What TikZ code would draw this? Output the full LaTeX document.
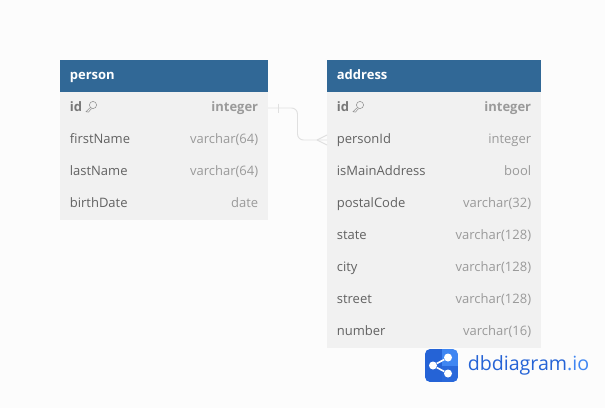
\documentclass[tikz,border=0pt]{standalone}
\usepackage{fontspec}
\setmainfont{Open Sans}
\usetikzlibrary{positioning}
\definecolor{headblue}{HTML}{316896}
\definecolor{rowgrey}{HTML}{F1F1F1}
\definecolor{pagegrey}{HTML}{FCFCFC}
\definecolor{namegrey}{HTML}{626262}
\definecolor{idgrey}{HTML}{777777}
\definecolor{typegrey}{HTML}{9A9A9A}
\definecolor{linkgrey}{HTML}{E0E0E0}
\definecolor{logodark}{HTML}{2563D6}
\definecolor{logolight}{HTML}{3F86F2}
\tikzset{
  personbox/.style={minimum width=156pt, minimum height=24pt, inner sep=0pt, outer sep=0pt},
  addressbox/.style={minimum width=160.5pt, minimum height=24pt, inner sep=0pt, outer sep=0pt},
  headcell/.style={fill=headblue},
  rowcell/.style={fill=rowgrey},
  headname/.style={anchor=west, inner xsep=7.2pt, inner ysep=0pt, text=white, font=\fontsize{9.75}{12}\selectfont\bfseries, text height=7.5pt, text depth=2pt},
  colname/.style={anchor=west, inner xsep=7.2pt, inner ysep=0pt, text=namegrey, font=\fontsize{9.75}{12}\selectfont, text height=7.5pt, text depth=2pt},
  coltype/.style={anchor=east, inner xsep=7.2pt, inner ysep=0pt, text=typegrey, font=\fontsize{9.75}{12}\selectfont, text height=7.5pt, text depth=2pt},
  keyname/.style={colname, text=idgrey, font=\fontsize{9.75}{12}\selectfont\bfseries},
  keytype/.style={coltype, font=\fontsize{9.75}{12}\selectfont\bfseries},
  link/.style={draw=linkgrey, line width=0.7pt},
  logodot/.style={circle, fill=white, minimum size=6pt, inner sep=0pt},
  keyglyph/.pic={
    \draw[idgrey!80, line width=0.4pt] (2,-1.5) circle (3.6);
    \draw[idgrey!80, line width=0.4pt] (-0.6,1) -- (-5,5.2) -- (-2.6,5.6) -- (0.6,2);
  },
}
\begin{document}
\begin{tikzpicture}[x=0.75pt, y=-0.75pt]
  \fill[pagegrey] (0,0) rectangle (605,408);
  \useasboundingbox (0,0) rectangle (605,408);

  % person
  \node[personbox, headcell] (person) at (164,76) {};
  \node[personbox, rowcell] (p1) at (164,108) {};
  \node[personbox, rowcell] (p2) at (164,140) {};
  \node[personbox, rowcell] (p3) at (164,172) {};
  \node[personbox, rowcell] (p4) at (164,204) {};
  \node[headname] (personT) at (person.west) {person};
  \node[keyname] (p1n) at (p1.west) {id};
  \node[keytype] (p1t) at (p1.east) {integer};
  \node[colname] (p2n) at (p2.west) {firstName};
  \node[coltype] (p2t) at (p2.east) {varchar(64)};
  \node[colname] (p3n) at (p3.west) {lastName};
  \node[coltype] (p3t) at (p3.east) {varchar(64)};
  \node[colname] (p4n) at (p4.west) {birthDate};
  \node[coltype] (p4t) at (p4.east) {date};
  \pic at (91,106.5) {keyglyph};

  % address
  \node[addressbox, headcell] (address) at (434,76) {};
  \node[addressbox, rowcell] (a1) at (434,108) {};
  \node[addressbox, rowcell] (a2) at (434,140) {};
  \node[addressbox, rowcell] (a3) at (434,172) {};
  \node[addressbox, rowcell] (a4) at (434,204) {};
  \node[addressbox, rowcell] (a5) at (434,236) {};
  \node[addressbox, rowcell] (a6) at (434,268) {};
  \node[addressbox, rowcell] (a7) at (434,300) {};
  \node[addressbox, rowcell] (a8) at (434,332) {};
  \node[headname] (addressT) at (address.west) {address};
  \node[keyname] (a1n) at (a1.west) {id};
  \node[keytype] (a1t) at (a1.east) {integer};
  \node[colname] (a2n) at (a2.west) {personId};
  \node[coltype] (a2t) at (a2.east) {integer};
  \node[colname] (a3n) at (a3.west) {isMainAddress};
  \node[coltype] (a3t) at (a3.east) {bool};
  \node[colname] (a4n) at (a4.west) {postalCode};
  \node[coltype] (a4t) at (a4.east) {varchar(32)};
  \node[colname] (a5n) at (a5.west) {state};
  \node[coltype] (a5t) at (a5.east) {varchar(128)};
  \node[colname] (a6n) at (a6.west) {city};
  \node[coltype] (a6t) at (a6.east) {varchar(128)};
  \node[colname] (a7n) at (a7.west) {street};
  \node[coltype] (a7t) at (a7.east) {varchar(128)};
  \node[colname] (a8n) at (a8.west) {number};
  \node[coltype] (a8t) at (a8.east) {varchar(16)};
  \pic at (358,106.5) {keyglyph};

  % relation
  \draw[link, rounded corners=4.5pt] (p1.east) -- (297.5,108) -- (297.5,140) -- (a2.west);
  \draw[link] (278,103.5) -- (278,112.5);
  \draw[link] (317,140) -- (a2.west |- 0,135);
  \draw[link] (317,140) -- (a2.west |- 0,145);

  % logo
  \begin{scope}
    \clip[rounded corners=4pt] (425,349) rectangle (458,382);
    \fill[logolight] (425,349) rectangle (458,382);
    \fill[logodark] (425,349) rectangle (441.5,382);
    \fill[logodark!85!logolight] (441.5,366) rectangle (458,382);
  \end{scope}
  \node[logodot] (hub) at (433,365.5) {};
  \node[logodot] (top) at (448,357.5) {};
  \node[logodot] (bot) at (448,373.5) {};
  \draw[white, line width=1.2pt] (top) -- (hub) -- (bot);
  \node[anchor=west, inner sep=0pt, text=logodark, font=\fontsize{14.7}{18}\selectfont] (brand) at (467.5,365.5) {dbdiagram\textcolor{logolight}{.io}};
\end{tikzpicture}
\end{document}
